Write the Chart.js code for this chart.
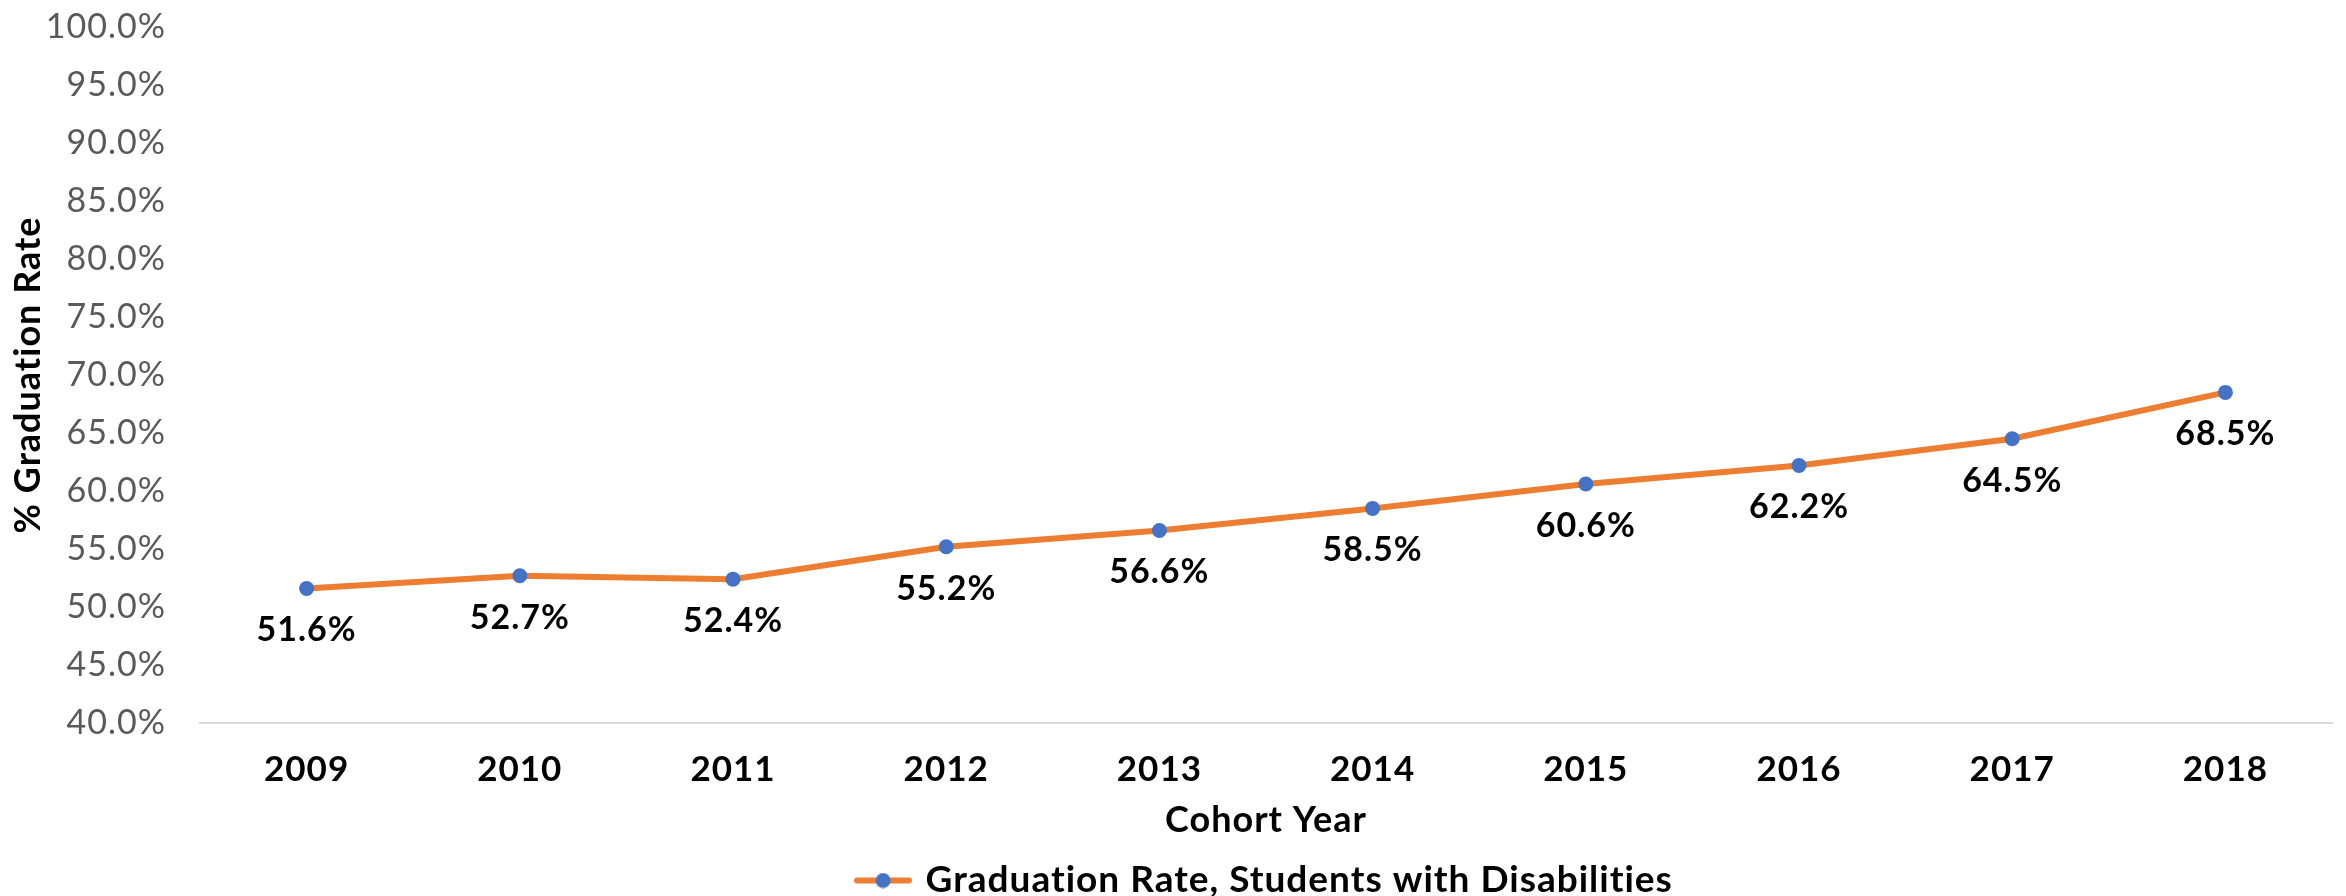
<!DOCTYPE html>
<html>
<head>
<meta charset="utf-8">
<script src="https://cdn.jsdelivr.net/npm/chart.js@4"></script>
<style>
  html, body { margin: 0; padding: 0; background: #fff; }
  #wrap { width: 2346px; height: 896px; }
</style>
</head>
<body>
<div id="wrap"><canvas id="chart"></canvas></div>
<script>
// graduation rate, students with disabilities, by cohort year
const years = ["2009", "2010", "2011", "2012", "2013", "2014", "2015", "2016", "2017", "2018"];
const gradRate = [51.6, 52.7, 52.4, 55.2, 56.6, 58.5, 60.6, 62.2, 64.5, 68.5];
const seriesName = "Graduation Rate, Students with Disabilities";
const yMin = 40, yMax = 100, yStep = 5;

const ORANGE = "#ED7D31", BLUE = "#4472C4";
const FONT = "Lato, 'Open Sans', sans-serif";

// legend marker: orange line with a blue dot
const marker = document.createElement("canvas");
marker.width = 58; marker.height = 16;
(function () {
  const c = marker.getContext("2d");
  c.strokeStyle = ORANGE; c.lineWidth = 6; c.lineCap = "round";
  c.beginPath(); c.moveTo(3, 8); c.lineTo(55, 8); c.stroke();
  c.fillStyle = BLUE;
  c.beginPath(); c.arc(29, 8, 7.5, 0, Math.PI * 2); c.fill();
})();

// a little letter spacing (also stops Lato's "ti" ligature)
const spacing = {
  id: "spacing",
  beforeLayout(chart) { chart.ctx.letterSpacing = "1px"; },
  beforeDraw(chart) { chart.ctx.letterSpacing = "1px"; }
};

// value labels under each point
const pointLabels = {
  id: "pointLabels",
  afterDatasetsDraw(chart) {
    const ctx = chart.ctx;
    const meta = chart.getDatasetMeta(0);
    ctx.save();
    ctx.font = "bold 34px " + FONT;
    ctx.fillStyle = "#000";
    ctx.textAlign = "center";
    ctx.textBaseline = "middle";
    meta.data.forEach((pt, i) => {
      ctx.fillText(gradRate[i].toFixed(1) + "%", pt.x, pt.y + 42);
    });
    ctx.restore();
  }
};

// invisible tick marks, used only as spacing between labels and the axis
const hiddenGrid = (len) => ({ display: true, drawOnChartArea: false, drawTicks: true, tickLength: len, color: "rgba(0,0,0,0)" });

new Chart(document.getElementById("chart"), {
  type: "line",
  data: {
    labels: years,
    datasets: [{
      label: seriesName,
      data: gradRate,
      borderColor: ORANGE,
      borderWidth: 6,
      backgroundColor: BLUE,
      pointBackgroundColor: BLUE,
      pointBorderColor: BLUE,
      pointRadius: 7.5,
      pointBorderWidth: 0,
      tension: 0,
      fill: false
    }]
  },
  plugins: [spacing, pointLabels],
  options: {
    responsive: true, maintainAspectRatio: false, animation: false,
    layout: { padding: { left: 7, right: 14, top: 27, bottom: -13 } },
    plugins: {
      tooltip: { enabled: false },
      legend: {
        position: "bottom",
        fullSize: false,
        labels: {
          color: "#000",
          font: { family: FONT, size: 37, weight: "bold" },
          usePointStyle: true,
          pointStyleWidth: 48,
          padding: 6,
          generateLabels(chart) {
            const items = Chart.defaults.plugins.legend.labels.generateLabels(chart);
            items.forEach(it => { it.pointStyle = marker; });
            return items;
          }
        }
      }
    },
    scales: {
      x: {
        offset: true,
        grid: hiddenGrid(26),
        border: { display: true, color: "#D9D9D9", width: 2 },
        ticks: { color: "#000", padding: 0, font: { family: FONT, size: 35, weight: "bold" } },
        title: { display: true, text: "Cohort Year", color: "#000", padding: { top: 0, bottom: 14 },
                 font: { family: FONT, size: 36, weight: "bold" } },
        afterFit(scale) { scale.height = 133; }
      },
      y: {
        min: yMin, max: yMax,
        grid: hiddenGrid(34),
        border: { display: false },
        ticks: {
          stepSize: yStep, color: "#595959", padding: 0,
          font: { family: FONT, size: 34 },
          callback: v => v.toFixed(1) + "%"
        },
        title: { display: true, text: "% Graduation Rate", color: "#000", padding: 0,
                 font: { family: FONT, size: 36, weight: "bold" } },
        afterFit(scale) { scale.width = 193; }
      }
    }
  }
});
</script>
</body>
</html>
